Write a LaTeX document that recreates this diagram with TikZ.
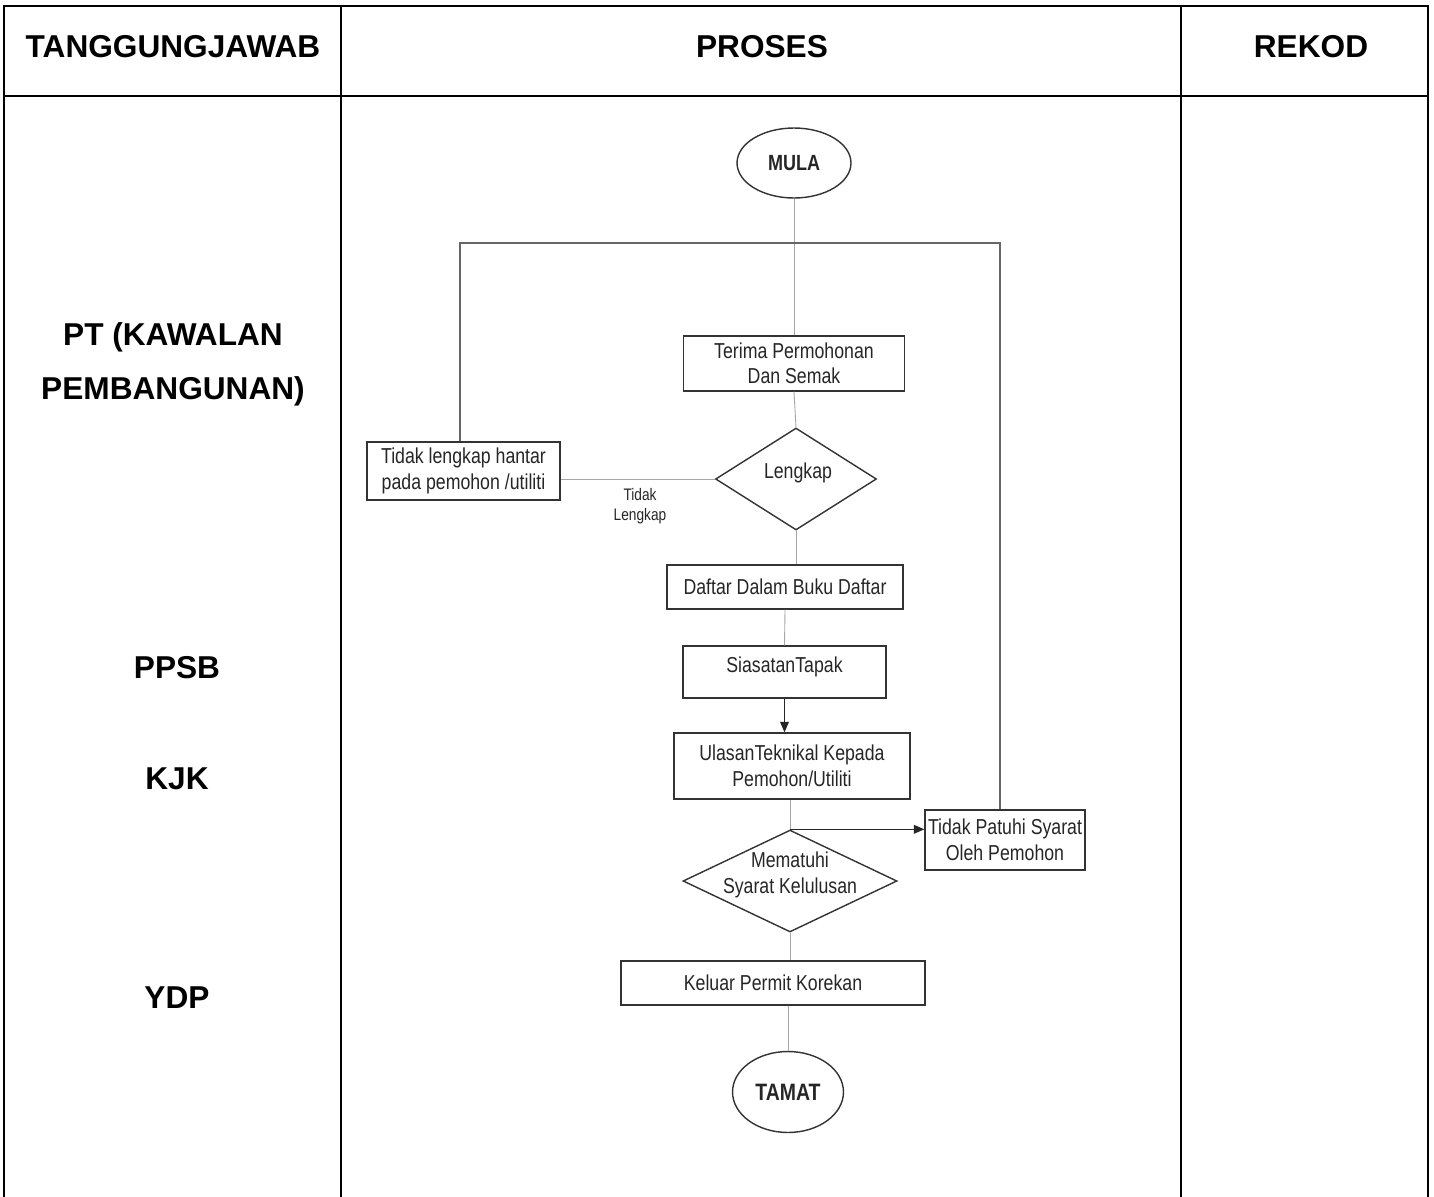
\documentclass[tikz,border=0pt]{standalone}
\usepackage{fontspec}
\setmainfont{Liberation Sans}
\newfontfamily\narrowfont[FakeStretch=0.82]{Liberation Sans}
\usetikzlibrary{shapes.geometric,arrows.meta}
\begin{document}
\begin{tikzpicture}[x=0.02cm,y=-0.02cm,
 tbl/.style={line width=1.1pt,draw=black},
 hdr/.style={font=\fontsize{18}{22}\selectfont\bfseries,align=center,inner sep=0pt},
 proc/.style={draw=black!80,line width=0.8pt,rectangle,inner sep=0pt,
   font=\narrowfont\fontsize{12.3}{14.5}\selectfont,align=center,text=black!85},
 term/.style={draw=black!80,line width=0.8pt,ellipse,inner sep=0pt,
   font=\narrowfont\bfseries\fontsize{12.5}{14}\selectfont,text=black!85},
 dec/.style={draw=black!80,line width=0.8pt,diamond,inner sep=0pt},
 dectext/.style={font=\narrowfont\fontsize{12.3}{14.5}\selectfont,align=center,text=black!85,inner sep=0pt},
 conn/.style={draw=black!35,line width=0.5pt},
 loopconn/.style={draw=black!60,line width=0.7pt},
 arrconn/.style={draw=black!85,line width=0.7pt,-{Triangle[length=6pt,width=5pt]}},
 lbl/.style={font=\narrowfont\fontsize{9.5}{11.5}\selectfont,align=center,text=black!85,inner sep=0pt}]
\useasboundingbox[fill=white] (0,0) rectangle (1434,1197);
% table
\draw[tbl] (4,1197) -- (4,6) -- (1428,6) -- (1428,1197);
\draw[tbl] (4,96) -- (1428,96);
\draw[tbl] (341,6) -- (341,1197);
\draw[tbl] (1181,6) -- (1181,1197);
\node[hdr] (h1) at (173,47) {TANGGUNGJAWAB};
\node[hdr] (h2) at (762,47) {PROSES};
\node[hdr] (h3) at (1311,47) {REKOD};
\node[hdr] (r1) at (173,337) {PT (KAWALAN};
\node[hdr] (r2) at (173,391) {PEMBANGUNAN)};
\node[hdr] (r3) at (177,668) {PPSB};
\node[hdr] (r4) at (177,779) {KJK};
\node[hdr] (r5) at (177,998) {YDP};
% flowchart nodes
\node[term,minimum width=2.28cm,minimum height=1.4cm] (mula) at (794,163) {MULA};
\node[proc,minimum width=4.42cm,minimum height=1.1cm] (terima) at (794,363.5) {Terima Permohonan\\Dan Semak};
\node[dec,minimum width=3.22cm,minimum height=2.04cm] (lengkap) at (796,479) {};
\node[dectext] (lengkaptxt) at (798,473) {Lengkap};
\node[proc,minimum width=3.86cm,minimum height=1.16cm] (tidakl) at (463.5,471) {Tidak lengkap hantar\\pada pemohon /utiliti};
\node[lbl] (tlabel) at (640,506) {Tidak\\Lengkap};
\node[proc,minimum width=4.72cm,minimum height=0.88cm] (daftar) at (785,587) {Daftar Dalam Buku Daftar};
\node[proc,minimum width=4.06cm,minimum height=1.04cm] (siasat) at (784.5,672) {};
\node[dectext] (siasattxt) at (784.5,667) {SiasatanTapak};
\node[proc,minimum width=4.72cm,minimum height=1.32cm] (ulasan) at (792,766) {UlasanTeknikal Kepada\\Pemohon/Utiliti};
\node[dec,minimum width=4.28cm,minimum height=2.04cm] (patuh) at (790,881) {};
\node[dectext] (patuhtxt) at (790,875) {Mematuhi\\Syarat Kelulusan};
\node[proc,minimum width=3.2cm,minimum height=1.2cm] (tpatuhi) at (1005,840) {Tidak Patuhi Syarat\\Oleh Pemohon};
\node[proc,minimum width=6.08cm,minimum height=0.88cm] (keluar) at (773,983) {Keluar Permit Korekan};
\node[term,minimum width=2.22cm,minimum height=1.62cm,font=\narrowfont\bfseries\fontsize{13.5}{15}\selectfont] (tamat) at (788,1092) {TAMAT};
\coordinate (tl) at (460,243);
\coordinate (tr) at (1000,243);
% connectors
\draw[conn] (mula.south) -- (terima.north);
\draw[conn] (terima.south) -- (lengkap.north);
\draw[conn] (lengkap.west) -- (tidakl.east |- lengkap.west);
\draw[conn] (lengkap.south) -- (daftar.north -| lengkap.south);
\draw[conn] (daftar.south) -- (siasat.north);
\draw[arrconn] (siasat.south) -- (ulasan.north -| siasat.south);
\draw[conn] (ulasan.south -| patuh.north) -- (patuh.north);
\draw[arrconn] (patuh.north) -- (patuh.north -| tpatuhi.west);
\draw[conn] (patuh.south) -- (keluar.north -| patuh.south);
\draw[conn] (keluar.south -| tamat.north) -- (tamat.north);
\draw[loopconn] (tidakl.north -| tl) -- (tl) -- (tr) -- (tr |- tpatuhi.north);
\end{tikzpicture}
\end{document}
